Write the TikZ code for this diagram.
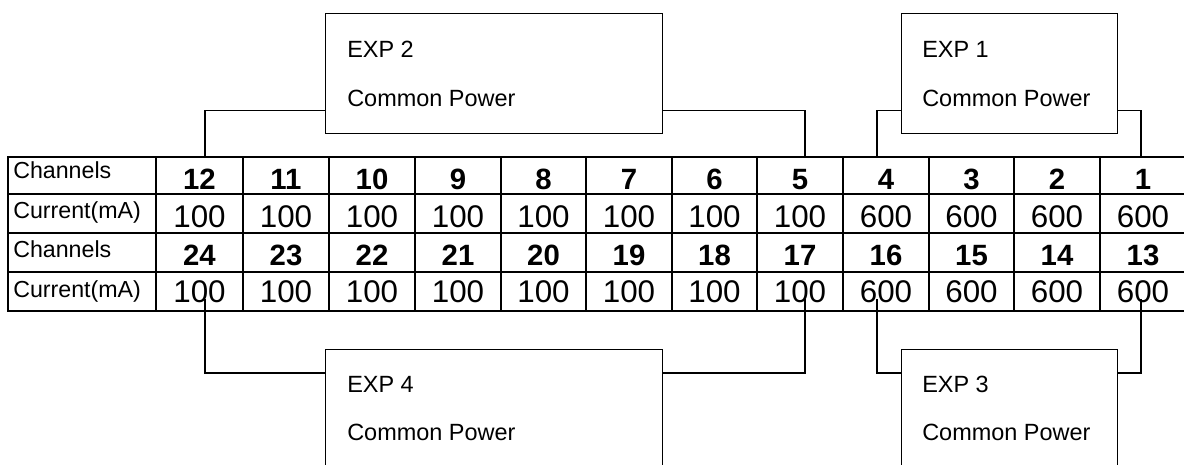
\documentclass[tikz,border=0pt]{standalone}
\usepackage{fontspec}
\setmainfont{Liberation Sans}
\usetikzlibrary{calc}
\begin{document}
\begin{tikzpicture}[x=0.75pt,y=-0.75pt,
  gridline/.style={line width=1.5pt,line cap=rect},
  expbox/.style={draw,line width=1.1pt,fill=white,anchor=north west,inner sep=0pt},
  boxtext/.style={anchor=base west,inner sep=0pt,font=\fontsize{17.6}{20}\selectfont},
  rowlabel/.style={anchor=base west,inner sep=0pt,font=\fontsize{17.4}{20}\selectfont},
  chnum/.style={anchor=base,inner sep=0pt,font=\fontsize{22}{25}\selectfont\bfseries},
  curnum/.style={anchor=base,inner sep=0pt,font=\fontsize{23.5}{26}\selectfont},
  conn/.style={line width=1pt}]
\useasboundingbox (0,0) rectangle (1184,464);
\clip (0,0) rectangle (1184,464);
% table grid
\foreach \yy in {157,194,233,272,311}{
  \draw[gridline] (8,\yy) -- (1190,\yy);
}
\foreach \xx in {8,156,243,329,415,501,586,672,757,843,929,1014,1100}{
  \draw[gridline] (\xx,157) -- (\xx,311);
}
% row labels
\node[rowlabel] (lab1) at (13,178) {Channels};
\node[rowlabel] (lab2) at (13,218) {Current(mA)};
\node[rowlabel] (lab3) at (13,257) {Channels};
\node[rowlabel] (lab4) at (13,297) {Current(mA)};
% cells
\foreach \cx/\ta/\tb/\cur [count=\i] in {
  199.5/12/24/100, 286/11/23/100, 372/10/22/100, 458/9/21/100,
  543.5/8/20/100, 629/7/19/100, 714.5/6/18/100, 800/5/17/100,
  886/4/16/600, 971.5/3/15/600, 1057/2/14/600, 1143/1/13/600}{
  \node[chnum] (ch\ta) at (\cx,189) {\ta};
  \node[curnum] (cur\ta) at (\cx,227.5) {\cur};
  \node[chnum] (ch\tb) at (\cx,265.5) {\tb};
  \node[curnum] (cur\tb) at (\cx,302) {\cur};
}
% boxes
\node[expbox,minimum width=252.75pt,minimum height=90pt] (exp2) at (325,13) {};
\node[expbox,minimum width=162pt,minimum height=90pt] (exp1) at (901,13) {};
\node[expbox,minimum width=252.75pt,minimum height=90pt] (exp4) at (325,349) {};
\node[expbox,minimum width=162pt,minimum height=90pt] (exp3) at (901,349) {};
\node[boxtext] (exp2a) at (347,57) {EXP 2};
\node[boxtext] (exp2b) at (347,106) {Common Power};
\node[boxtext] (exp1a) at (922,57) {EXP 1};
\node[boxtext] (exp1b) at (922,106) {Common Power};
\node[boxtext] (exp4a) at (347,392) {EXP 4};
\node[boxtext] (exp4b) at (347,440) {Common Power};
\node[boxtext] (exp3a) at (922,392) {EXP 3};
\node[boxtext] (exp3b) at (922,440) {Common Power};
% connector anchor points on the table
\coordinate (a12) at (205,157);
\coordinate (a5) at (805,157);
\coordinate (a4) at (877,157);
\coordinate (a1) at (1141,157);
\coordinate (a24) at (205,299);
\coordinate (a17) at (805,299);
\coordinate (a16) at (877,299);
\coordinate (a13) at (1141,299);
% connectors
\draw[conn] (a12) |- ([yshift=18pt]exp2.south west);
\draw[conn] (a5) |- ([yshift=18pt]exp2.south east);
\draw[conn] (a4) |- ([yshift=18pt]exp1.south west);
\draw[conn] (a1) |- ([yshift=18pt]exp1.south east);
\draw[conn] (a24) |- ([yshift=-18pt]exp4.north west);
\draw[conn] (a17) |- ([yshift=-18pt]exp4.north east);
\draw[conn] (a16) |- ([yshift=-18pt]exp3.north west);
\draw[conn] (a13) |- ([yshift=-18pt]exp3.north east);
\end{tikzpicture}
\end{document}
